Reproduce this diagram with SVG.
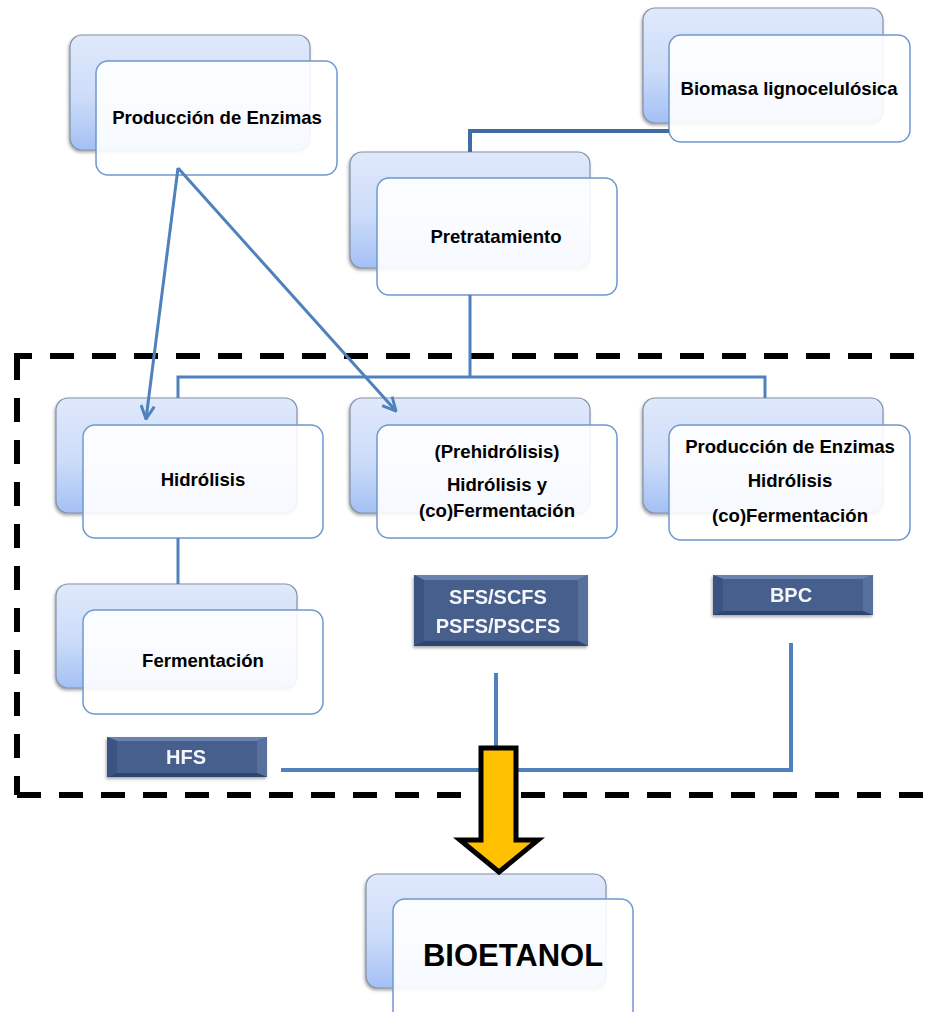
<svg xmlns="http://www.w3.org/2000/svg" width="930" height="1012" viewBox="0 0 930 1012">
<style>
.back{fill:url(#bg);stroke:#8391A8;stroke-width:1.2}
.front{fill:#fff;fill-opacity:0.9;stroke:#6E98CF;stroke-width:1.5}
.lbl{font-family:"Liberation Sans",Arial,sans-serif;font-weight:bold;font-size:18.6px;fill:#000;text-anchor:middle}
.big{font-size:31px}
.tag{font-family:"Liberation Sans",Arial,sans-serif;font-weight:bold;font-size:20px;fill:#F4F6FA;text-anchor:middle}
.ln{fill:none;stroke:#4F81BD;stroke-width:3}
.lnb{fill:none;stroke:#4F81BD;stroke-width:4}
.dash{fill:none;stroke:#000;stroke-width:6;stroke-dasharray:24 18}
</style>
<defs>
<linearGradient id="bg" x1="0" y1="0" x2="0" y2="1">
<stop offset="0" stop-color="#E0E9FB"/>
<stop offset="0.55" stop-color="#CCDCF9"/>
<stop offset="1" stop-color="#A3C0F4"/>
</linearGradient>
<filter id="sh" x="-10%" y="-10%" width="120%" height="130%">
<feDropShadow dx="-1" dy="2" stdDeviation="1.5" flood-color="#555" flood-opacity="0.5"/>
</filter>
<marker id="ah" viewBox="0 0 12 12" refX="11" refY="6" markerWidth="16" markerHeight="16" markerUnits="userSpaceOnUse" orient="auto">
<path d="M1,1 L11,6 L1,11" fill="none" stroke="#4F81BD" stroke-width="2.2"/>
</marker>
</defs>
<rect width="930" height="1012" fill="#fff"/>

<g id="boundary">
<path class="dash" d="M14 356 H930" stroke-dashoffset="6"/>
<path class="dash" d="M17 356 V795"/>
<path class="dash" d="M17 795 H930"/>
</g>

<g id="n-prod">
<rect class="back" x="70" y="35" width="240" height="115" rx="12" filter="url(#sh)"/>
<rect class="front" x="96" y="61" width="241" height="114" rx="12"/>
<text class="lbl" x="217" y="124">Producción de Enzimas</text>
</g>
<g id="n-biomasa">
<rect class="back" x="643" y="8" width="240" height="115" rx="12" filter="url(#sh)"/>
<rect class="front" x="669" y="35" width="241" height="107" rx="12"/>
<text class="lbl" x="789" y="95">Biomasa lignocelulósica</text>
</g>
<g id="n-pretrat">
<rect class="back" x="350" y="152" width="240" height="116" rx="12" filter="url(#sh)"/>
<rect class="front" x="377" y="178" width="240" height="117" rx="12"/>
<text class="lbl" x="496" y="243">Pretratamiento</text>
</g>
<g id="n-hidrolisis">
<rect class="back" x="56" y="398" width="241" height="115" rx="12" filter="url(#sh)"/>
<rect class="front" x="83" y="425" width="240" height="113" rx="12"/>
<text class="lbl" x="203" y="486">Hidrólisis</text>
</g>
<g id="n-prehid">
<rect class="back" x="350" y="398" width="240" height="115" rx="12" filter="url(#sh)"/>
<rect class="front" x="377" y="425" width="240" height="113" rx="12"/>
<text class="lbl" x="497" y="458">(Prehidrólisis)</text>
<text class="lbl" x="497" y="491">Hidrólisis y</text>
<text class="lbl" x="497" y="517">(co)Fermentación</text>
</g>
<g id="n-bpc">
<rect class="back" x="643" y="398" width="240" height="115" rx="12" filter="url(#sh)"/>
<rect class="front" x="669" y="425" width="241" height="115" rx="12"/>
<text class="lbl" x="790" y="453">Producción de Enzimas</text>
<text class="lbl" x="790" y="487">Hidrólisis</text>
<text class="lbl" x="790" y="522">(co)Fermentación</text>
</g>
<g id="n-ferment">
<rect class="back" x="56" y="584" width="241" height="104" rx="12" filter="url(#sh)"/>
<rect class="front" x="83" y="610" width="240" height="104" rx="12"/>
<text class="lbl" x="203" y="667">Fermentación</text>
</g>
<g id="n-bioetanol">
<rect class="back" x="366" y="874" width="240" height="114" rx="12" filter="url(#sh)"/>
<rect class="front" x="393" y="899" width="240" height="125" rx="12"/>
<text class="lbl big" x="513" y="966">BIOETANOL</text>
</g>

<g id="t-sfs" filter="url(#sh)">
<rect x="414" y="575" width="174" height="71" fill="#475F8D"/>
<polygon points="414,575 588,575 578,580 424,580" fill="#6A82AE"/>
<polygon points="414,575 424,580 424,641 414,646" fill="#3A5282"/>
<polygon points="588,575 578,580 578,641 588,646" fill="#58709E"/>
<polygon points="414,646 424,641 578,641 588,646" fill="#2F4470"/>
<text class="tag" x="498" y="604">SFS/SCFS</text>
<text class="tag" x="498" y="633">PSFS/PSCFS</text>
</g>
<g id="t-hfs" filter="url(#sh)">
<rect x="107" y="737" width="160" height="40" fill="#475F8D"/>
<polygon points="107,737 267,737 257,741 117,741" fill="#6A82AE"/>
<polygon points="107,737 117,741 117,773 107,777" fill="#3A5282"/>
<polygon points="267,737 257,741 257,773 267,777" fill="#58709E"/>
<polygon points="107,777 117,773 257,773 267,777" fill="#2F4470"/>
<text class="tag" x="186" y="764">HFS</text>
</g>
<g id="t-bpc" filter="url(#sh)">
<rect x="713" y="575" width="160" height="40" fill="#475F8D"/>
<polygon points="713,575 873,575 863,579 723,579" fill="#6A82AE"/>
<polygon points="713,575 723,579 723,611 713,615" fill="#3A5282"/>
<polygon points="873,575 863,579 863,611 873,615" fill="#58709E"/>
<polygon points="713,615 723,611 863,611 873,615" fill="#2F4470"/>
<text class="tag" x="791" y="602">BPC</text>
</g>

<g id="connectors">
<path d="M669 131 H470 V152" fill="none" stroke="#3F6CA3" stroke-width="4"/>
<path class="ln" d="M470 295 V377"/>
<path class="ln" d="M178 398 V377 H765 V398"/>
<path class="ln" d="M178 538 V584"/>
<path class="ln" d="M178 168 L146 419" marker-end="url(#ah)"/>
<path class="ln" d="M178 168 L396 411" marker-end="url(#ah)"/>
<path class="lnb" d="M496 673 V770"/>
<path class="lnb" d="M281 770 H791 V643"/>
</g>

<g id="big-arrow">
<polygon points="481,748 516,748 516,840 538,840 499,872 460,840 481,840" fill="#FFC000" stroke="#000" stroke-width="5" stroke-linejoin="miter"/>
</g>
</svg>
